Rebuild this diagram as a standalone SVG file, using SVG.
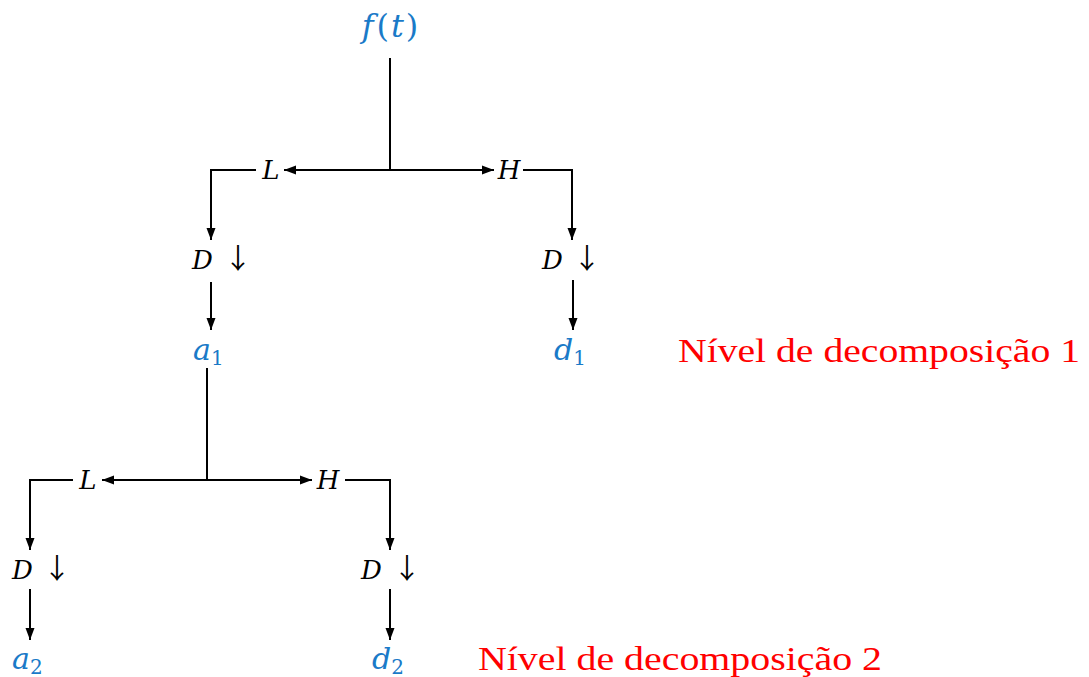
<svg xmlns="http://www.w3.org/2000/svg" width="1089" height="677" viewBox="0 0 1089 677">
<defs>
<marker id="ah" viewBox="0 0 12 10" refX="12" refY="5" markerWidth="12" markerHeight="10" markerUnits="userSpaceOnUse" orient="auto">
<path d="M0,0.5 L12,5 L0,9.5 Z" fill="#000"/>
</marker>
</defs>
<style>
.ln{stroke:#000;stroke-width:2;fill:none}
.m{font-family:"DejaVu Serif","Liberation Serif",serif;font-style:italic;fill:#000;font-size:26px}
.b{font-family:"DejaVu Serif","Liberation Serif",serif;font-style:italic;fill:#1a7ac8;font-size:30px}
.sub{font-style:normal;font-size:20px}
.r{font-family:"Liberation Serif","DejaVu Serif",serif;fill:#ff0000;font-size:33px}
.n{font-style:normal}
.ar{font-family:"Noto Sans CJK SC","DejaVu Sans",sans-serif;font-style:normal;font-size:28px}
</style>
<rect width="1089" height="677" fill="#fff"/>
<g id="connectors">
<path class="ln" d="M390,58 V170"/>
<path class="ln" d="M390,170 H284" marker-end="url(#ah)"/>
<path class="ln" d="M390,170 H494" marker-end="url(#ah)"/>
<path class="ln" d="M256,170 H211 V240" marker-end="url(#ah)"/>
<path class="ln" d="M523,170 H572 V240" marker-end="url(#ah)"/>
<path class="ln" d="M211,282 V330" marker-end="url(#ah)"/>
<path class="ln" d="M573,280 V330" marker-end="url(#ah)"/>
<path class="ln" d="M207,368 V480"/>
<path class="ln" d="M207,480 H102" marker-end="url(#ah)"/>
<path class="ln" d="M207,480 H312" marker-end="url(#ah)"/>
<path class="ln" d="M73,480 H30 V550" marker-end="url(#ah)"/>
<path class="ln" d="M345,480 H390 V550" marker-end="url(#ah)"/>
<path class="ln" d="M30,589 V640" marker-end="url(#ah)"/>
<path class="ln" d="M390,589 V640" marker-end="url(#ah)"/>
</g>
<g id="ft"><text class="b" x="390" y="37" text-anchor="middle" style="font-size:32px">f<tspan class="n" dx="3">(</tspan><tspan dx="2">t</tspan><tspan class="n" dx="2">)</tspan></text></g>
<g id="L1"><text class="m" x="271" y="179" text-anchor="middle">L</text></g>
<g id="H1"><text class="m" x="509" y="179" text-anchor="middle">H</text></g>
<g id="D1L"><text class="m" x="192" y="269">D<tspan class="ar" x="224" y="269">↓</tspan></text></g>
<g id="D1H"><text class="m" x="542" y="269">D<tspan class="ar" x="573" y="269">↓</tspan></text></g>
<g id="a1"><text class="b" x="193" y="360">a<tspan class="sub" dy="5">1</tspan></text></g>
<g id="d1"><text class="b" x="554" y="360">d<tspan class="sub" dy="5">1</tspan></text></g>
<g id="lvl1"><text class="r" x="678" y="362" textLength="402" lengthAdjust="spacingAndGlyphs">Nível de decomposição 1</text></g>
<g id="L2"><text class="m" x="88" y="489" text-anchor="middle">L</text></g>
<g id="H2"><text class="m" x="328" y="489" text-anchor="middle">H</text></g>
<g id="D2L"><text class="m" x="12" y="579">D<tspan class="ar" x="43" y="579">↓</tspan></text></g>
<g id="D2H"><text class="m" x="361" y="579">D<tspan class="ar" x="393" y="579">↓</tspan></text></g>
<g id="a2"><text class="b" x="12" y="669">a<tspan class="sub" dy="5">2</tspan></text></g>
<g id="d2"><text class="b" x="372" y="669">d<tspan class="sub" dy="5">2</tspan></text></g>
<g id="lvl2"><text class="r" x="478" y="670" textLength="404" lengthAdjust="spacingAndGlyphs">Nível de decomposição 2</text></g>
</svg>
